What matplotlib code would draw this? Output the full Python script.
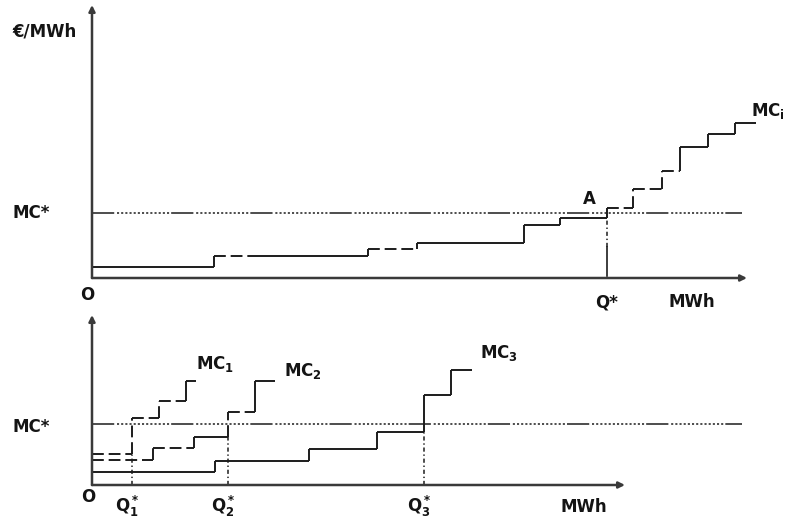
import matplotlib
matplotlib.use("Agg")
import matplotlib.pyplot as plt

plt.rcParams['font.family'] = ['DejaVu Sans']
plt.rcParams['font.weight'] = 'bold'
plt.rcParams['mathtext.default'] = 'regular'
plt.rcParams['lines.scale_dashes'] = False

# ---------------- data (schematic units) ----------------
# Top panel: aggregated marginal cost curve MC_i (step curve)
top_x = [0, 122, 161, 276, 325, 432, 468, 515, 541, 570, 588, 616, 643, 664]
top_levels = [11, 22, 22, 29, 35, 53, 60, 70, 89, 107, 131, 144, 155]
top_styles = ['-', '--', '-', '--', '-', '-', '-', '--', '--', '--', '-', '-', '-']
top_mcstar = 65
top_qstar = 515

# Bottom panel: individual marginal cost curves
mc1_x = [0, 40, 67, 94, 104]
mc1_levels = [31, 67, 84, 104]
mc1_styles = ['--', '--', '--', '-']

mc2_x = [0, 61, 102, 136, 163, 183]
mc2_levels = [25, 37, 48, 73, 104]
mc2_styles = ['--', '--', '-', '--', '-']

mc3_x = [0, 123, 217, 285, 332, 359, 380]
mc3_levels = [13, 24, 36, 53, 90, 115]
mc3_styles = ['-', '-', '-', '-', '-', '-']

bot_mcstar = 61
q_stars = [40, 136, 332]
q_bases = [31, 48, 53]
q_labels = ['Q$_1^*$', 'Q$_2^*$', 'Q$_3^*$']

# ---------------- figure ----------------
W, H = 789, 520
fig = plt.figure(figsize=(W / 100, H / 100), dpi=100)
ink = '#1c1c1c'
axis_c = '#3a3a3a'
txt_c = '#141414'
lw = 1.4
DASH = (0, (8.5, 3.5))
MCSTAR_DASH = (0, (16, 2) + (1.5, 1.5) * 13)


def make_ax(px_bottom, px_height):
    ax = fig.add_axes([92 / W, (H - px_bottom) / H, 697 / W, px_height / H])
    ax.set_xlim(0, 697)
    ax.set_ylim(0, px_height)
    ax.axis('off')
    return ax


def style_of(s):
    return DASH if s == '--' else '-'


def draw_steps(ax, xs, levels, styles):
    for i in range(len(levels)):
        ax.plot([xs[i], xs[i + 1]], [levels[i], levels[i]], color=ink, lw=lw,
                ls=style_of(styles[i]), solid_capstyle='butt', dash_capstyle='butt')
        if i + 1 < len(levels) and levels[i + 1] != levels[i]:
            ax.plot([xs[i + 1], xs[i + 1]], [levels[i], levels[i + 1]], color=ink, lw=lw,
                    ls=style_of(styles[i + 1]), solid_capstyle='butt')


def draw_axes(ax, x_end, y_end):
    arrow = dict(arrowstyle='-|>', lw=1.8, color=axis_c, mutation_scale=9,
                 shrinkA=0, shrinkB=0)
    ax.annotate('', xy=(x_end, 0), xytext=(0, 0), arrowprops=arrow, annotation_clip=False)
    ax.annotate('', xy=(0, y_end), xytext=(0, 0), arrowprops=arrow, annotation_clip=False)


# ---- top panel ----
ax1 = make_ax(278, 273)
draw_axes(ax1, 655, 273)
ax1.plot([0, 650], [top_mcstar, top_mcstar], color=ink, lw=1.1, ls=MCSTAR_DASH)
draw_steps(ax1, top_x, top_levels, top_styles)
ax1.plot([top_qstar, top_qstar], [31, 63], color=ink, lw=1.1, ls=(0, (3, 2, 1, 2)))
ax1.plot([top_qstar, top_qstar], [2, 31], color=ink, lw=1.2)

tk = dict(color=txt_c, fontsize=12, fontweight='bold', clip_on=False)
ax1.text(-80, 246, '€/MWh', ha='left', va='center', **tk)
ax1.text(-79, 65, 'MC*', ha='left', va='center', **tk)
ax1.text(-5, -17, 'O', ha='center', va='center', **tk)
ax1.text(503, -24, 'Q*', ha='left', va='center', **tk)
ax1.text(576, -24, 'MWh', ha='left', va='center', **tk)
ax1.text(497, 79, 'A', ha='center', va='center', **tk)
ax1.text(659, 167, 'MC$_i$', ha='left', va='center', **tk)

# ---- bottom panel ----
ax2 = make_ax(485, 170)
draw_axes(ax2, 533, 170)
ax2.plot([0, 650], [bot_mcstar, bot_mcstar], color=ink, lw=1.1, ls=MCSTAR_DASH)
draw_steps(ax2, mc3_x, mc3_levels, mc3_styles)
draw_steps(ax2, mc2_x, mc2_levels, mc2_styles)
draw_steps(ax2, mc1_x, mc1_levels, mc1_styles)
for q, b in zip(q_stars, q_bases):
    ax2.plot([q, q], [0, b], color=ink, lw=1.1, ls=(0, (3, 2, 1, 2)))

ax2.text(-79, 58, 'MC*', ha='left', va='center', **tk)
ax2.text(-4, -12, 'O', ha='center', va='center', **tk)
ax2.text(104, 121, 'MC$_1$', ha='left', va='center', **tk)
ax2.text(192, 114, 'MC$_2$', ha='left', va='center', **tk)
ax2.text(388, 132, 'MC$_3$', ha='left', va='center', **tk)
for q, lab in zip(q_stars, q_labels):
    ax2.text(q - 17, -21, lab, ha='left', va='center', **tk)
ax2.text(468, -22, 'MWh', ha='left', va='center', **tk)

fig.savefig('out.png', dpi=100, facecolor='white')
